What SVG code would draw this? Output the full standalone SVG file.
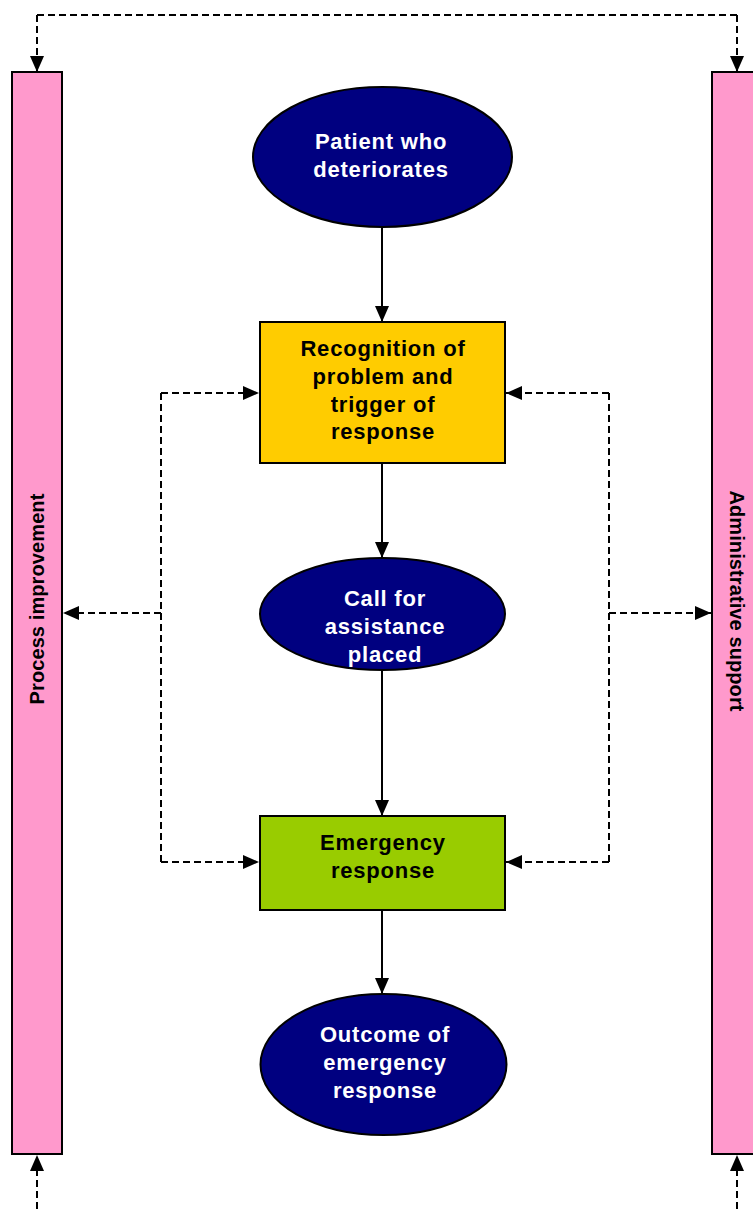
<svg xmlns="http://www.w3.org/2000/svg" width="753" height="1209" viewBox="0 0 753 1209">
<style>
.bar{fill:#FF99CC;stroke:#000;stroke-width:2}
.ell{fill:#000080;stroke:#000;stroke-width:2}
.t{font-family:"Liberation Sans",Arial,sans-serif;font-weight:bold;font-size:22px;text-anchor:middle;letter-spacing:0.8px}
.b{font-size:20px;letter-spacing:0.1px}
.w{fill:#fff}
.k{fill:#000}
.solid{stroke:#000;stroke-width:2;fill:none}
.dash{stroke:#000;stroke-width:2;fill:none;stroke-dasharray:7 4}
</style>
<defs>
<marker id="ah" viewBox="0 0 16 14" refX="16" refY="7" markerWidth="16" markerHeight="14" markerUnits="userSpaceOnUse" orient="auto">
<path d="M0,0 L16,7 L0,14 Z" fill="#000"/>
</marker>
</defs>
<rect width="753" height="1209" fill="#fff"/>
<g id="connectors">
<path class="dash" d="M37,1209 L37,1155" marker-end="url(#ah)"/>
<path class="dash" d="M737,1209 L737,1155" marker-end="url(#ah)"/>
<path class="dash" d="M37,15 L737,15"/>
<path class="dash" d="M37,15 L37,72" marker-end="url(#ah)"/>
<path class="dash" d="M737,15 L737,72" marker-end="url(#ah)"/>
<path class="solid" d="M382,227 L382,322" marker-end="url(#ah)"/>
<path class="solid" d="M382,463 L382,558" marker-end="url(#ah)"/>
<path class="solid" d="M382,670 L382,816" marker-end="url(#ah)"/>
<path class="solid" d="M382,910 L382,994" marker-end="url(#ah)"/>
<path class="dash" d="M161,393 L161,862"/>
<path class="dash" d="M161,393 L259,393" marker-end="url(#ah)"/>
<path class="dash" d="M161,862 L259,862" marker-end="url(#ah)"/>
<path class="dash" d="M161,613 L63,613" marker-end="url(#ah)"/>
<path class="dash" d="M609,393 L609,862"/>
<path class="dash" d="M609,393 L506,393" marker-end="url(#ah)"/>
<path class="dash" d="M609,862 L506,862" marker-end="url(#ah)"/>
<path class="dash" d="M609,613 L711,613" marker-end="url(#ah)"/>
</g>
<g id="process-improvement">
<rect class="bar" x="12" y="72" width="50" height="1082"/>
<text class="t b k" transform="translate(44,599) rotate(-90)">Process improvement</text>
</g>
<g id="administrative-support">
<rect class="bar" x="712" y="72" width="50" height="1082"/>
<text class="t b k" transform="translate(730,601) rotate(90)">Administrative support</text>
</g>
<g id="patient">
<ellipse class="ell" cx="382.5" cy="157" rx="129.5" ry="70"/>
<text class="t w" x="381" y="149">Patient who</text>
<text class="t w" x="381" y="177">deteriorates</text>
</g>
<g id="recognition">
<rect x="260" y="322" width="245" height="141" fill="#FFCC00" stroke="#000" stroke-width="2"/>
<text class="t k" x="383" y="356">Recognition of</text>
<text class="t k" x="383" y="384">problem and</text>
<text class="t k" x="383" y="412">trigger of</text>
<text class="t k" x="383" y="439">response</text>
</g>
<g id="call">
<ellipse class="ell" cx="382.5" cy="614" rx="122.5" ry="56"/>
<text class="t w" x="385" y="606">Call for</text>
<text class="t w" x="385" y="634">assistance</text>
<text class="t w" x="385" y="662">placed</text>
</g>
<g id="emergency">
<rect x="260" y="816" width="245" height="94" fill="#99CC00" stroke="#000" stroke-width="2"/>
<text class="t k" x="383" y="850">Emergency</text>
<text class="t k" x="383" y="878">response</text>
</g>
<g id="outcome">
<ellipse class="ell" cx="383.5" cy="1064.5" rx="123" ry="70.5"/>
<text class="t w" x="385" y="1042">Outcome of</text>
<text class="t w" x="385" y="1070">emergency</text>
<text class="t w" x="385" y="1098">response</text>
</g>
</svg>
